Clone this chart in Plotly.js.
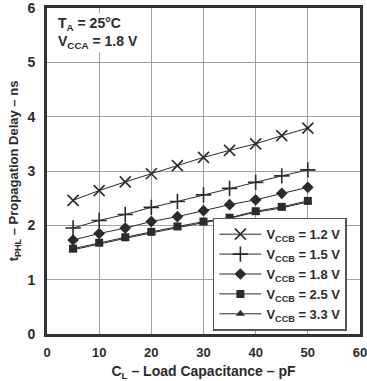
<!DOCTYPE html>
<html>
<head>
<meta charset="utf-8">
<script src="https://cdn.plot.ly/plotly-3.0.1.min.js"></script>
<style>html,body{margin:0;padding:0;background:#fff;}#chart{width:367px;height:381px;}</style>
</head>
<body>
<div id="chart"></div>
<script>
const loadCap = [5, 10, 15, 20, 25, 30, 35, 40, 45, 50];
const seriesNames = ["V<sub>CCB</sub> = 1.2 V", "V<sub>CCB</sub> = 1.5 V", "V<sub>CCB</sub> = 1.8 V", "V<sub>CCB</sub> = 2.5 V", "V<sub>CCB</sub> = 3.3 V"];
const vccb12 = [2.46, 2.64, 2.80, 2.95, 3.10, 3.25, 3.38, 3.50, 3.65, 3.79];
const vccb15 = [1.95, 2.09, 2.20, 2.33, 2.44, 2.56, 2.68, 2.79, 2.91, 3.02];
const vccb18 = [1.73, 1.85, 1.95, 2.07, 2.16, 2.27, 2.38, 2.47, 2.59, 2.70];
const vccb25 = [1.57, 1.68, 1.78, 1.88, 1.98, 2.07, 2.14, 2.26, 2.34, 2.45];
const vccb33 = [1.55, 1.66, 1.76, 1.86, 1.96, 2.05, 2.13, 2.24, 2.32, 2.43];
const xTicks = [0, 10, 20, 30, 40, 50, 60];
const yTicks = [0, 1, 2, 3, 4, 5, 6];

const ink = "#2b2b2b";
const symbols = ["x-thin-open", "cross-thin-open", "diamond", "square", "triangle-up"];
const sizes = [11, 11, 9, 8, 8];
const allY = [vccb12, vccb15, vccb18, vccb25, vccb33];

const traces = allY.map((ys, i) => ({
  x: loadCap, y: ys, type: "scatter", mode: "lines+markers",
  name: seriesNames[i],
  line: {color: ink, width: 1},
  marker: {symbol: symbols[i], size: sizes[i], color: ink, line: {color: ink, width: (i < 2 ? 1.6 : 0)}}
}));

const fontFam = "Liberation Sans, Arial, sans-serif";
const layout = {
  width: 367, height: 381,
  margin: {l: 47, r: 7, t: 8, b: 47},
  paper_bgcolor: "#fff", plot_bgcolor: "#fff",
  font: {family: fontFam, size: 13, color: ink, weight: "bold"},
  showlegend: true,
  legend: {
    x: 0.53, y: 0.01, xanchor: "left", yanchor: "bottom",
    bgcolor: "#fff", bordercolor: "#555", borderwidth: 1.5,
    font: {family: fontFam, size: 13, color: ink, weight: "bold"},
    itemwidth: 42,
    tracegroupgap: 0
  },
  xaxis: {
    range: [0, 60], tickvals: xTicks, ticktext: xTicks.map(String),
    showgrid: true, gridcolor: "#a0a0a0", gridwidth: 1,
    zeroline: false, showline: true, linecolor: "#333", linewidth: 3, mirror: true,
    ticks: "", ticklabelstandoff: 4, ticklabeloverflow: "allow",
    tickfont: {family: fontFam, size: 13, color: ink, weight: "bold"},
    title: {text: "C<sub>L</sub> – Load Capacitance – pF", standoff: 8,
            font: {family: fontFam, size: 14, color: ink, weight: "bold"}}
  },
  yaxis: {
    range: [0, 6], tickvals: yTicks, ticktext: yTicks.map(String),
    showgrid: true, gridcolor: "#a0a0a0", gridwidth: 1,
    zeroline: false, showline: true, linecolor: "#333", linewidth: 3, mirror: true,
    ticks: "", ticklabelstandoff: 6, ticklabeloverflow: "allow",
    tickfont: {family: fontFam, size: 14, color: ink, weight: "bold"},
    title: {text: "t<sub>PHL</sub> – Propagation Delay – ns", standoff: 6,
            font: {family: fontFam, size: 13, color: ink, weight: "bold"}}
  },
  annotations: [{
    xref: "paper", yref: "paper", x: 0.03, y: 0.985, xanchor: "left", yanchor: "top",
    align: "left", showarrow: false, bgcolor: "#fff",
    text: "T<sub>A</sub> = 25°C<br>V<sub>CCA</sub> = 1.8 V",
    font: {family: fontFam, size: 14, color: ink, weight: "bold"}
  }]
};

Plotly.newPlot("chart", traces, layout, {displayModeBar: false, staticPlot: true});
</script>
</body>
</html>
